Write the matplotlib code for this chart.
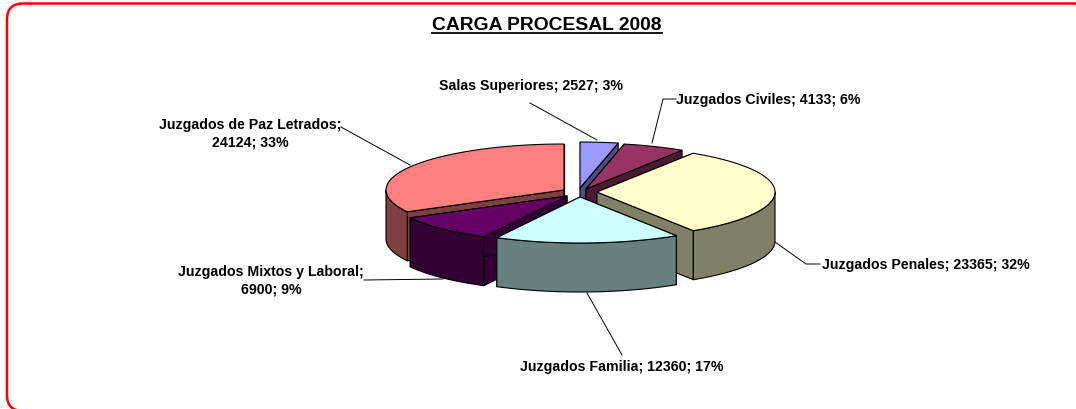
import numpy as np
import matplotlib
matplotlib.use("Agg")
import matplotlib.pyplot as plt
from matplotlib.patches import Polygon, FancyBboxPatch

plt.rcParams['font.family'] = ['Liberation Sans', 'DejaVu Sans']

categories = ["Salas Superiores", "Juzgados Civiles", "Juzgados Penales",
              "Juzgados Familia", "Juzgados Mixtos y Laboral", "Juzgados de Paz Letrados"]
values = [2527, 4133, 23365, 12360, 6900, 24124]
percents = [3, 6, 32, 17, 9, 33]
top_colors = ["#9999FF", "#993366", "#FFFFCC", "#CCFFFF", "#660066", "#FF8080"]
side_colors = ["#4D4D80", "#4D1A33", "#808066", "#668080", "#330033", "#804040"]

# layout, in pixels of the 1076x410 image
apex = [(580, 189), (586, 190), (597, 193), (580, 198), (567, 197), (564, 191)]
rx, ry, depth = 178, 46, 49
draw_order = [0, 1, 5, 2, 4, 3]
label_breaks = [False, False, False, False, True, True]
label_pos = [(531, 86), (768, 100), (926, 265), (622, 367), (271, 281), (250, 134)]
leaders = [[(530, 104), (597, 141)], [(676, 100), (663, 100), (652, 144)],
           [(820, 265), (806, 265), (775, 243)], [(587, 294), (622, 356)],
           [(364, 281), (443, 280)], [(341, 128), (410, 166)]]


def rim(cx, cy, t0, t1):
    # points of the ellipse, angle clockwise from 12 o'clock
    t = np.radians(np.linspace(t0, t1, 120))
    return np.column_stack([cx + rx * np.sin(t), cy - ry * np.cos(t)])


def extrude(pts):
    return np.vstack([pts, (pts + [0, depth])[::-1]])


fig = plt.figure(figsize=(10.76, 4.1), dpi=100)
ax = fig.add_axes([0, 0, 1, 1])
ax.set_xlim(0, 1076)
ax.set_ylim(410, 0)
ax.axis("off")

ax.add_patch(FancyBboxPatch((7, 4.5), 1083, 407.5, boxstyle="round,pad=0,rounding_size=16",
                            fc="white", ec="#FF0000", lw=1.8))

shares = np.array(values) / np.sum(values) * 360
ends = np.cumsum(shares)
starts = ends - shares

for i in draw_order:
    cx, cy = apex[i]
    t0, t1 = starts[i], ends[i]
    kw = dict(ec="black", lw=0.8, joinstyle="round")
    for t in (t0, t1):
        edge = rim(cx, cy, t, t)[[0, -1]]
        edge[0] = (cx, cy)
        ax.add_patch(Polygon(extrude(edge), fc=side_colors[i], **kw))
    w0, w1 = max(t0, 90), min(t1, 270)
    if w0 < w1:
        ax.add_patch(Polygon(extrude(rim(cx, cy, w0, w1)), fc=side_colors[i], **kw))
    top = np.vstack([[(cx, cy)], rim(cx, cy, t0, t1)])
    ax.add_patch(Polygon(top, fc=top_colors[i], **kw))

for seg in leaders:
    xs, ys = zip(*seg)
    ax.plot(xs, ys, color="black", lw=0.7)

for i, name in enumerate(categories):
    sep = ";\n" if label_breaks[i] else "; "
    text = f"{name}{sep}{values[i]}; {percents[i]}%"
    ax.text(label_pos[i][0], label_pos[i][1], text, ha="center", va="center",
            fontsize=10.2, fontweight="bold", linespacing=1.32)

ax.text(547, 25, "CARGA PROCESAL 2008", ha="center", va="center", fontsize=13.9, fontweight="bold")
ax.plot([432, 662], [33.5, 33.5], color="black", lw=1.3)

fig.savefig("out.png", dpi=100)
